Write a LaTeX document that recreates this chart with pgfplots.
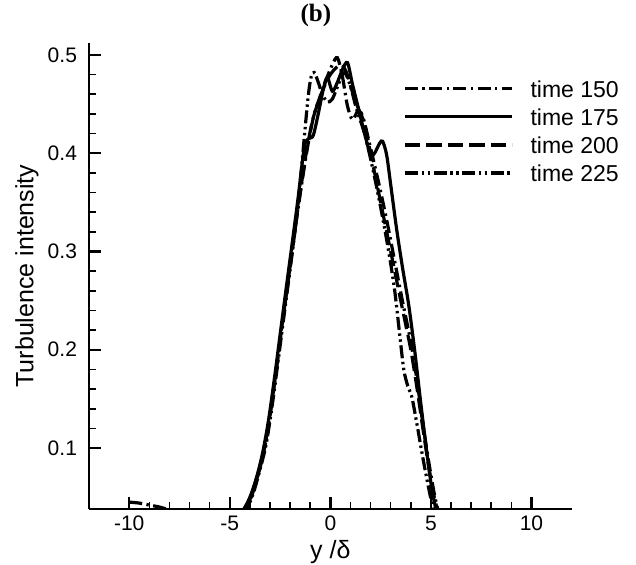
\documentclass[border=0pt]{standalone}
\usepackage{pgfplots}
\pgfplotsset{compat=1.18}
\usepackage{fontspec}
\setmainfont{Liberation Sans}
\newfontfamily\serif{Liberation Serif}

\tikzset{
  dd/.style={dash pattern=on 6.5pt off 2.2pt on 1.2pt off 2.2pt},
  ds/.style={dash pattern=on 7.7pt off 3pt},
  ddd/.style={dash pattern=on 6.5pt off 1.8pt on 1.2pt off 1.8pt on 1.2pt off 1.8pt},
}

\begin{document}
\begin{tikzpicture}
\begin{axis}[
  name=ax,
  scale only axis,
  width=241.35pt, height=233pt,
  xmin=-12, xmax=12,
  ymin=0.038, ymax=0.512,
  axis lines=left,
  axis line style={-, line width=1.2pt},
  tick align=inside,
  xtick={-10,-5,0,5,10},
  ytick={0.1,0.2,0.3,0.4,0.5},
  minor x tick num=4,
  minor y tick num=4,
  major tick length=6pt,
  minor tick length=3.5pt,
  every major tick/.append style={line width=1.2pt, black},
  every minor tick/.append style={line width=0.8pt, black},
  /pgf/number format/assume math mode=true,
  tick label style={font=\fontsize{10.5}{12}\selectfont},
  yticklabel style={xshift=-2.5pt, /pgf/number format/fixed, /pgf/number format/precision=1},
  label style={font=\fontsize{12.5}{14}\selectfont},
  xlabel={y /δ},
  xlabel style={at={(0.5,-0.0923)}, anchor=center},
  ylabel={Turbulence intensity},
  ylabel style={at={(-0.1284,0.5)}, anchor=center},
  title={\serif\bfseries (b)},
  every axis title/.style={at={(0.47,1.06)}, anchor=center, font=\fontsize{12.5}{14}\selectfont},
  legend cell align=left,
  legend image code/.code={\draw[#1] (0pt,1pt) -- (53.5pt,1pt);},
  legend style={draw=none, fill=none, at={(0.638,0.937)}, anchor=north west,
    font=\fontsize{11.5}{13}\selectfont, row sep=0.25pt,
    /tikz/every odd column/.append style={column sep=6.5pt}},
  every axis plot/.append style={line width=1.6pt, black, smooth},
]
% time 150
\addplot[dd] coordinates {
(-10,0.045)(-9.5,0.044)(-9,0.042)(-8.5,0.040)(-8,0.037)(-7.5,0.033)(-6.5,0.028)(-5.5,0.026)(-4.8,0.028)
(-4.4,0.033)(-4.1,0.042)(-3.8,0.06)(-3.5,0.082)(-3.2,0.108)(-2.9,0.148)(-2.6,0.193)(-2.3,0.24)
(-2.0,0.285)(-1.7,0.33)(-1.4,0.372)(-1.1,0.41)(-0.8,0.44)(-0.5,0.458)(-0.2,0.475)(0.1,0.49)
(0.35,0.497)(0.6,0.478)(0.85,0.448)(1.1,0.434)(1.35,0.442)(1.6,0.438)(2.0,0.405)(2.4,0.37)
(2.8,0.332)(3.2,0.29)(3.6,0.248)(4.0,0.208)(4.3,0.17)(4.6,0.125)(4.9,0.085)(5.2,0.05)(5.45,0.03)};
\addlegendentry{time 150}
% time 175
\addplot[solid] coordinates {
(-4.6,0.03)(-4.3,0.038)(-4.0,0.05)(-3.7,0.068)(-3.4,0.092)(-3.1,0.125)(-2.8,0.168)(-2.5,0.215)
(-2.2,0.262)(-1.9,0.308)(-1.6,0.355)(-1.4,0.39)(-1.25,0.41)(-1.05,0.415)(-0.85,0.418)(-0.6,0.44)
(-0.35,0.465)(-0.15,0.477)(0.1,0.463)(0.35,0.472)(0.6,0.485)(0.85,0.492)(1.1,0.47)(1.4,0.445)
(1.7,0.42)(2.0,0.398)(2.2,0.4)(2.45,0.41)(2.6,0.412)(2.8,0.398)(3.0,0.368)(3.3,0.322)(3.6,0.282)
(3.9,0.245)(4.2,0.198)(4.5,0.145)(4.8,0.095)(5.05,0.058)(5.3,0.033)};
\addlegendentry{time 175}
% time 200
\addplot[ds] coordinates {
(-4.5,0.03)(-4.2,0.038)(-3.9,0.052)(-3.6,0.072)(-3.3,0.097)(-3.0,0.133)(-2.7,0.178)(-2.4,0.225)
(-2.1,0.27)(-1.8,0.316)(-1.5,0.36)(-1.2,0.4)(-0.9,0.432)(-0.6,0.452)(-0.3,0.468)(0,0.48)(0.3,0.487)
(0.55,0.49)(0.8,0.482)(1.1,0.462)(1.4,0.445)(1.7,0.43)(2.0,0.4)(2.4,0.36)(2.8,0.32)(3.2,0.28)
(3.6,0.24)(4.0,0.2)(4.3,0.162)(4.6,0.12)(4.9,0.08)(5.2,0.047)(5.45,0.03)};
\addlegendentry{time 200}
% time 225
\addplot[ddd] coordinates {
(-4.4,0.03)(-4.1,0.04)(-3.8,0.056)(-3.5,0.078)(-3.2,0.103)(-2.9,0.142)(-2.6,0.188)(-2.3,0.235)
(-2.0,0.282)(-1.75,0.322)(-1.5,0.37)(-1.3,0.415)(-1.1,0.458)(-0.95,0.478)(-0.8,0.482)(-0.6,0.472)
(-0.4,0.46)(-0.15,0.452)(0.1,0.455)(0.4,0.47)(0.7,0.482)(1.0,0.468)(1.3,0.445)(1.7,0.42)(2.1,0.385)
(2.5,0.345)(2.9,0.3)(3.2,0.26)(3.45,0.215)(3.65,0.18)(3.85,0.163)(4.05,0.152)(4.3,0.125)(4.6,0.09)
(4.9,0.058)(5.15,0.035)(5.35,0.025)};
\addlegendentry{time 225}
\end{axis}
\pgfresetboundingbox
\path (ax.south west) ++(-44.5pt,-28pt) rectangle ++(318pt,282.5pt);
\end{tikzpicture}
\end{document}
